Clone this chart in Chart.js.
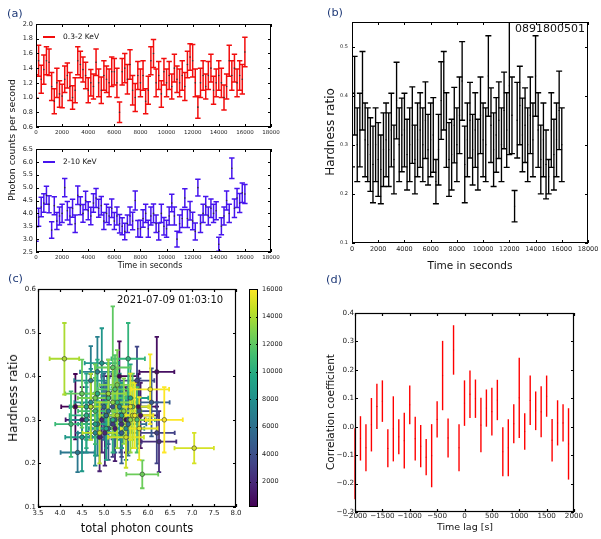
<!DOCTYPE html>
<html>
<head>
<meta charset="utf-8">
<script src="https://cdn.jsdelivr.net/npm/chart.js@4.4.1/dist/chart.umd.min.js"></script>
<style>
  html, body { margin: 0; padding: 0; background: #fff; }
  #wrap { position: relative; width: 601px; height: 539px; overflow: hidden; font-family: "DejaVu Sans", sans-serif; }
  #wrap canvas { position: absolute; left: 0; top: 0; }
</style>
</head>
<body>
<div id="wrap"></div>
<script>
// time bins (s) shared by the light curves, hardness ratio and the scatter
const times = [0,200,400,600,800,1000,1200,1400,1600,1800,
  2000,2200,2400,2600,2800,3000,3200,3400,3600,3800,
  4000,4200,4400,4600,4800,5000,5200,5400,5600,5800,
  6000,6200,6400,6600,6800,7000,7200,7400,7600,7800,
  8000,8200,8400,8600,8800,9000,9200,9400,9600,9800,
  10000,10200,10400,10600,10800,11000,11200,11400,11600,11800,
  12000,12200,12400,12600,12800,13000,13200,13400,13600,13800,
  14000,14200,14400,14600,14800,15000,15200,15400,15600,15800,16000]

// 0.3-2 keV rate
const softRate = [1.15,1.5,1.25,1.38,1.5,1.48,1.15,0.95,1.2,1.05,
  1.02,1.25,1.3,1.15,1.0,1.1,1.5,1.45,1.38,1.3,
  1.1,1.2,1.15,1.48,1.2,1.1,1.3,1.25,1.2,1.35,
  1.35,1.2,0.8,1.35,1.4,1.25,1.45,1.1,1.0,1.3,
  1.2,1.3,0.95,1.1,1.5,1.6,1.2,1.3,1.05,1.35,
  1.2,1.3,1.15,1.4,1.25,1.2,1.3,1.15,1.45,1.55,
  1.5,1.2,0.87,1.2,1.3,1.15,1.3,1.4,1.1,1.2,
  1.3,1.2,1.0,1.15,1.5,1.3,1.4,1.2,1.3,1.25,1.62]
const softErr = [0.16,0.21,0.19,0.2,0.19,0.18,0.19,0.17,0.2,0.18,
  0.16,0.18,0.17,0.19,0.16,0.17,0.19,0.18,0.17,0.18,
  0.17,0.18,0.17,0.18,0.19,0.18,0.2,0.18,0.19,0.2,
  0.18,0.2,0.14,0.18,0.2,0.2,0.2,0.2,0.19,0.19,
  0.19,0.2,0.17,0.19,0.19,0.19,0.19,0.19,0.18,0.18,
  0.19,0.19,0.17,0.19,0.18,0.19,0.2,0.19,0.18,0.18,
  0.22,0.19,0.15,0.2,0.2,0.17,0.19,0.19,0.19,0.19,
  0.2,0.2,0.17,0.17,0.21,0.2,0.19,0.19,0.2,0.2,0.2]

// 2-10 keV rate
const hardRate = [3.2,3.85,4.25,4.4,4.7,4.35,3.35,4.3,3.7,3.9,
  4.0,5.0,4.1,3.9,4.2,3.6,4.7,4.3,4.0,4.5,
  4.1,3.9,4.4,4.6,4.2,4.3,3.7,4.0,3.9,4.2,
  3.7,3.9,3.6,3.5,3.3,3.6,3.9,3.7,4.5,3.4,
  3.4,3.8,4.0,3.4,3.9,4.0,3.6,3.3,4.0,3.5,
  3.4,3.9,4.4,3.9,3.0,3.6,3.8,4.6,3.8,4.1,
  3.7,3.3,5.0,3.6,4.0,4.3,3.9,4.2,4.0,4.1,
  2.8,3.5,3.9,4.5,4.0,5.75,4.2,4.6,4.4,4.8,4.75]
const hardErr = [0.28,0.35,0.38,0.36,0.35,0.33,0.32,0.35,0.33,0.35,
  0.35,0.35,0.36,0.33,0.35,0.34,0.36,0.35,0.34,0.36,
  0.35,0.34,0.36,0.37,0.35,0.36,0.33,0.35,0.34,0.36,
  0.33,0.35,0.36,0.33,0.32,0.34,0.35,0.34,0.37,0.32,
  0.33,0.34,0.35,0.33,0.35,0.36,0.34,0.33,0.35,0.34,
  0.33,0.35,0.34,0.35,0.31,0.34,0.35,0.36,0.35,0.36,
  0.34,0.33,0.33,0.34,0.35,0.36,0.35,0.36,0.35,0.35,
  0.27,0.33,0.35,0.37,0.35,0.4,0.36,0.37,0.37,0.38,0.37]

// hardness ratio
const hardness = [0.33,0.40,0.30,0.33,0.41,0.31,0.30,0.28,0.26,0.30,
  0.27,0.25,0.29,0.31,0.29,0.33,0.27,0.39,0.30,0.32,
  0.33,0.28,0.30,0.34,0.27,0.31,0.33,0.30,0.35,0.29,
  0.31,0.32,0.225,0.29,0.39,0.41,0.33,0.27,0.28,0.34,
  0.30,0.36,0.43,0.26,0.31,0.35,0.29,0.33,0.28,0.36,
  0.31,0.30,0.44,0.34,0.29,0.32,0.35,0.30,0.37,0.33,
  0.42,0.36,0.175,0.35,0.38,0.32,0.34,0.30,0.36,0.31,
  0.44,0.33,0.27,0.31,0.26,0.235,0.33,0.28,0.31,0.37,0.30]
const hardnessErr = [0.075,0.08,0.075,0.075,0.08,0.075,0.075,0.075,0.078,0.075,
  0.075,0.07,0.075,0.075,0.075,0.075,0.07,0.078,0.075,0.075,
  0.075,0.072,0.075,0.078,0.07,0.075,0.076,0.075,0.078,0.072,
  0.075,0.076,0.045,0.072,0.079,0.08,0.076,0.075,0.072,0.077,
  0.075,0.078,0.08,0.078,0.075,0.077,0.072,0.076,0.072,0.078,
  0.075,0.075,0.082,0.076,0.075,0.076,0.078,0.075,0.078,0.076,
  0.14,0.078,0.032,0.077,0.08,0.075,0.076,0.075,0.078,0.075,
  0.082,0.076,0.07,0.075,0.07,0.035,0.076,0.072,0.075,0.08,0.075]

// cross-correlation (lower / upper end of each bar)
const lags = [-2000,-1900,-1800,-1700,-1600,-1500,-1400,-1300,-1200,-1100,
  -1000,-900,-800,-700,-600,-500,-400,-300,-200,-100,
  0,100,200,300,400,500,600,700,800,900,
  1000,1100,1200,1300,1400,1500,1600,1700,1800,1900]
const corrLow = [-0.255,-0.119,-0.157,-0.087,-0.008,0.017,-0.143,-0.122,-0.097,-0.147,
  0.009,-0.119,-0.143,-0.171,-0.213,-0.038,0.058,-0.108,0.183,-0.157,
  0.003,0.031,0.031,-0.09,0.0,-0.031,0.023,-0.174,-0.174,-0.058,
  -0.04,-0.081,0.006,-0.012,-0.037,0.035,-0.122,-0.066,-0.052,-0.186]
const corrHigh = [-0.005,0.037,0.009,0.101,0.151,0.163,-0.009,0.107,0.026,0.049,
  0.145,0.035,0.006,-0.043,0.009,0.09,0.302,0.029,0.357,0.009,
  0.163,0.198,0.166,0.102,0.131,0.137,0.165,-0.002,0.026,0.079,
  0.243,0.047,0.18,0.124,0.142,0.18,0.027,0.093,0.079,0.065]

// tick labels
const timeTicks = [0,2000,4000,6000,8000,10000,12000,14000,16000,18000]
const softTicks = [0.6,0.8,1.0,1.2,1.4,1.6,1.8,2.0]
const hardTicks = [2.5,3.0,3.5,4.0,4.5,5.0,5.5,6.0,6.5]
const hrTicks = [0.1,0.2,0.3,0.4,0.5]
const countTicks = [3.5,4.0,4.5,5.0,5.5,6.0,6.5,7.0,7.5,8.0]
const hrScatterTicks = [0.1,0.2,0.3,0.4,0.5,0.6]
const cbTicks = [2000,4000,6000,8000,10000,12000,14000,16000]
const lagTicks = [-2000,-1500,-1000,-500,0,500,1000,1500,2000]
const corrTicks = [-0.3,-0.2,-0.1,0.0,0.1,0.2,0.3,0.4]
const colorRange = [150, 16000]

const W = 601, H = 539
const FONT = '"DejaVu Sans", sans-serif'
const wrap = document.getElementById('wrap')

const VIRIDIS = ['#440154','#482475','#414487','#355f8d','#2a788e','#21918c','#22a884','#44bf70','#7ad151','#bddf26','#fde725']
function hexRgb(h) { return [1, 3, 5].map(i => parseInt(h.slice(i, i + 2), 16)) }
function viridis(f) {
  f = Math.max(0, Math.min(1, f))
  const p = f * (VIRIDIS.length - 1)
  const i = Math.min(Math.floor(p), VIRIDIS.length - 2)
  const t = p - i
  const a = hexRgb(VIRIDIS[i]), b = hexRgb(VIRIDIS[i + 1])
  return `rgb(${a.map((v, k) => Math.round(v + (b[k] - v) * t)).join(',')})`
}
const timeColor = t => viridis((t - colorRange[0]) / (colorRange[1] - colorRange[0]))

function newCanvas() {
  const c = document.createElement('canvas')
  c.width = W; c.height = H
  wrap.appendChild(c)
  return c
}

// chart area placed at L..R / T..B, with fixed axis sizes
function place(L, T, R, B, yw, xh) {
  return { left: L - yw, top: T, right: W - R, bottom: H - B - xh }
}

function linAxis(pos, min, max, ticks, fmt, size, pad, fit) {
  const vertical = pos === 'left' || pos === 'right'
  return {
    type: 'linear', position: pos, min, max,
    afterBuildTicks: s => { s.ticks = ticks.map(v => ({ value: v })) },
    afterFit: s => { if (vertical) s.width = fit; else s.height = fit },
    grid: { display: false, drawTicks: false },
    border: { display: false },
    ticks: { callback: fmt, font: { family: FONT, size }, color: '#222', padding: pad, maxRotation: 0, autoSkip: false },
  }
}

const fmt1 = v => (Math.abs(v) < 1e-9 ? 0 : v).toFixed(1).replace('-', '\u2212')
const fmtInt = v => String(Math.round(v)).replace('-', '\u2212')

function baseOptions(padding, scales) {
  return {
    responsive: false, animation: false, devicePixelRatio: 1, events: [],
    layout: { padding },
    plugins: { legend: { display: false }, tooltip: { enabled: false } },
    scales,
  }
}

// axis box with matplotlib-style inward ticks
function frame(tick, lw, xTicks = true) {
  return {
    id: 'frame',
    afterDraw(chart) {
      const { ctx, chartArea: a, scales } = chart
      ctx.save()
      ctx.strokeStyle = '#000'
      ctx.lineWidth = lw
      ctx.strokeRect(a.left + 0.5, a.top + 0.5, a.right - a.left - 1, a.bottom - a.top - 1)
      ctx.beginPath()
      if (xTicks) {
        for (const t of scales.x.ticks) {
          const px = Math.round(scales.x.getPixelForValue(t.value)) + 0.5
          ctx.moveTo(px, a.bottom); ctx.lineTo(px, a.bottom - tick)
          ctx.moveTo(px, a.top); ctx.lineTo(px, a.top + tick)
        }
      }
      for (const t of scales.y.ticks) {
        const py = Math.round(scales.y.getPixelForValue(t.value)) + 0.5
        ctx.moveTo(a.left, py); ctx.lineTo(a.left + tick, py)
        ctx.moveTo(a.right, py); ctx.lineTo(a.right - tick, py)
      }
      ctx.stroke()
      ctx.restore()
    },
  }
}

// error bars drawn with the chart's own scales
function errorBars(spec) {
  return {
    id: 'errorBars',
    beforeDatasetsDraw(chart) {
      const { ctx, chartArea: a, scales: { x, y } } = chart
      ctx.save()
      if (spec.clip) { ctx.beginPath(); ctx.rect(a.left, a.top, a.right - a.left, a.bottom - a.top); ctx.clip() }
      ctx.lineWidth = spec.width
      spec.xs.forEach((xv, i) => {
        ctx.strokeStyle = typeof spec.color === 'function' ? spec.color(i) : spec.color
        const px = x.getPixelForValue(xv), py = y.getPixelForValue(spec.ys[i])
        ctx.beginPath()
        if (spec.yerr) {
          const y0 = y.getPixelForValue(spec.ys[i] - spec.yerr[i]), y1 = y.getPixelForValue(spec.ys[i] + spec.yerr[i])
          ctx.moveTo(px, y0); ctx.lineTo(px, y1)
          if (spec.cap) {
            ctx.moveTo(px - spec.cap, y0); ctx.lineTo(px + spec.cap, y0)
            ctx.moveTo(px - spec.cap, y1); ctx.lineTo(px + spec.cap, y1)
          }
        }
        if (spec.xerr) {
          const x0 = x.getPixelForValue(xv - spec.xerr[i]), x1 = x.getPixelForValue(xv + spec.xerr[i])
          ctx.moveTo(x0, py); ctx.lineTo(x1, py)
          if (spec.cap) {
            ctx.moveTo(x0, py - spec.cap); ctx.lineTo(x0, py + spec.cap)
            ctx.moveTo(x1, py - spec.cap); ctx.lineTo(x1, py + spec.cap)
          }
        }
        ctx.stroke()
      })
      ctx.restore()
    },
  }
}

function text(str, x, y, size, opts = {}) {
  const d = document.createElement('div')
  d.textContent = str
  const tf = opts.rot ? 'translate(-50%,-50%) rotate(-90deg)' : opts.center ? 'translate(-50%,-50%)' : 'translateY(-50%)'
  d.style.cssText = `position:absolute;left:${x}px;top:${y}px;font-size:${size}px;line-height:1;white-space:nowrap;color:${opts.color || '#111'};transform:${tf};`
  wrap.appendChild(d)
  return d
}
function legendLine(x, y, w, color) {
  const d = document.createElement('div')
  d.style.cssText = `position:absolute;left:${x}px;top:${y - 0.75}px;width:${w}px;height:1.5px;background:${color};`
  wrap.appendChild(d)
}

const pts = (xs, ys) => xs.map((v, i) => ({ x: v, y: ys[i] }))

// (a) upper: 0.3-2 keV
new Chart(newCanvas(), {
  type: 'scatter',
  data: { datasets: [{ data: pts(times, softRate), pointRadius: 0.8, pointBackgroundColor: '#333', pointBorderWidth: 0 }] },
  options: baseOptions(place(36, 24, 271, 127, 34, 12), {
    x: linAxis('bottom', 0, 18000, timeTicks, fmtInt, 5.5, 2, 12),
    y: linAxis('left', 0.6, 2.0, softTicks, fmt1, 6.5, 3, 34),
  }),
  plugins: [errorBars({ xs: times, ys: softRate, yerr: softErr, color: '#f20d0d', width: 1.5, cap: 2.7, clip: true }), frame(3, 1)],
})

// (a) lower: 2-10 keV
new Chart(newCanvas(), {
  type: 'scatter',
  data: { datasets: [{ data: pts(times, hardRate), pointRadius: 0.8, pointBackgroundColor: '#333', pointBorderWidth: 0 }] },
  options: baseOptions(place(36, 149, 271, 252, 34, 12), {
    x: linAxis('bottom', 0, 18000, timeTicks, fmtInt, 5.5, 2, 12),
    y: linAxis('left', 2.5, 6.5, hardTicks, fmt1, 6.5, 3, 34),
  }),
  plugins: [errorBars({ xs: times, ys: hardRate, yerr: hardErr, color: '#4614ee', width: 1.5, cap: 2.7, clip: true }), frame(3, 1)],
})

// (b) hardness ratio
new Chart(newCanvas(), {
  type: 'scatter',
  data: { datasets: [{ data: pts(times, hardness), pointRadius: 0.7, pointBackgroundColor: '#000', pointBorderWidth: 0 }] },
  options: baseOptions(place(352, 22, 588, 243, 30, 12), {
    x: linAxis('bottom', 0, 18000, timeTicks, fmtInt, 6.5, 2, 12),
    y: linAxis('left', 0.1, 0.55, hrTicks, fmt1, 5, 4, 30),
  }),
  plugins: [errorBars({ xs: times, ys: hardness, yerr: hardnessErr, color: '#000', width: 1.35, cap: 3, clip: true }), frame(3, 1)],
})

// (c) hardness vs total counts, coloured by time
const totalCounts = times.map((t, i) => softRate[i] + hardRate[i])
const totalErr = times.map((t, i) => Math.sqrt(softErr[i] ** 2 + hardErr[i] ** 2))
new Chart(newCanvas(), {
  type: 'scatter',
  data: { datasets: [{
    data: pts(totalCounts, hardness),
    pointRadius: 2.3,
    pointBackgroundColor: times.map(timeColor),
    pointBorderColor: 'rgba(50,50,50,0.75)',
    pointBorderWidth: 0.8,
  }] },
  options: baseOptions(place(38, 289, 236, 507, 30, 14), {
    x: linAxis('bottom', 3.5, 8.0, countTicks, fmt1, 7, 2, 14),
    y: linAxis('left', 0.1, 0.6, hrScatterTicks, fmt1, 7, 2, 30),
  }),
  plugins: [errorBars({ xs: totalCounts, ys: hardness, yerr: hardnessErr, xerr: totalErr, color: i => timeColor(times[i]), width: 1.8, cap: 2.2, clip: true }), frame(3, 1.2)],
})

// (c) colour bar
new Chart(newCanvas(), {
  type: 'bar',
  data: { labels: ['t'], datasets: [{
    data: [colorRange],
    barPercentage: 1, categoryPercentage: 1, borderWidth: 0,
    backgroundColor: c => {
      const a = c.chart.chartArea
      if (!a) return '#888'
      const g = c.chart.ctx.createLinearGradient(0, a.bottom, 0, a.top)
      VIRIDIS.forEach((col, k) => g.addColorStop(k / (VIRIDIS.length - 1), col))
      return g
    },
  }] },
  options: baseOptions({ left: 249, top: 289, right: W - 258 - 40, bottom: H - 507 }, {
    x: { type: 'category', display: false },
    y: linAxis('right', colorRange[0], colorRange[1], cbTicks, fmtInt, 6.5, 4, 40),
  }),
  plugins: [frame(2, 1, false)],
})

// (d) cross-correlation
const corrMid = corrLow.map((v, i) => (v + corrHigh[i]) / 2)
const corrHalf = corrLow.map((v, i) => (corrHigh[i] - v) / 2)
new Chart(newCanvas(), {
  type: 'scatter',
  data: { datasets: [{ data: pts(lags, corrMid), pointRadius: 0.6, pointBackgroundColor: '#d00', pointBorderWidth: 0 }] },
  options: baseOptions(place(355, 313, 574, 512, 30, 12), {
    x: linAxis('bottom', -2000, 2000, lagTicks, fmtInt, 7.2, 0, 12),
    y: linAxis('left', -0.3, 0.4, corrTicks, fmt1, 7.2, 1, 30),
  }),
  plugins: [errorBars({ xs: lags, ys: corrMid, yerr: corrHalf, color: '#f00', width: 1.4, cap: 0, clip: false }), frame(3, 1.2)],
})

// titles, labels, legends
const NAVY = '#1f3a78'
text('(a)', 7, 14, 11.3, { color: NAVY })
text('(b)', 327, 13, 11.3, { color: NAVY })
text('(c)', 8, 279, 11.3, { color: NAVY })
text('(d)', 326, 280, 11.3, { color: NAVY })

text('Photon counts per second', 12, 140, 9.4, { rot: true })
text('Time in seconds', 150, 266, 8, { center: true })
legendLine(43, 37, 12, '#f20d0d')
text('0.3-2 KeV', 63, 37, 7.5)
legendLine(43, 162, 12, '#4614ee')
text('2-10 KeV', 63, 162, 7.5)

text('Hardness ratio', 330, 132, 12, { rot: true })
text('Time in seconds', 470, 265, 10.5, { center: true })
text('0891800501', 515, 28, 11)

text('2021-07-09 01:03:10', 117, 300, 10)
text('Hardness ratio', 13, 398, 12, { rot: true })
text('total photon counts', 137, 529, 11.5, { center: true })

text('Correlation coefficient', 330, 412, 10.5, { rot: true })
text('Time lag [s]', 465, 527, 9.5, { center: true })
</script>
</body>
</html>
